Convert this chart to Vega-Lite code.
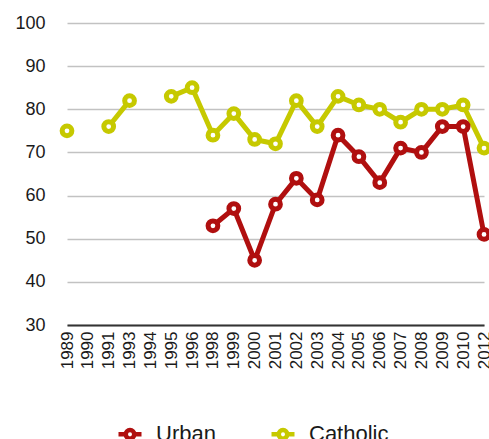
{
  "$schema": "https://vega.github.io/schema/vega-lite/v6.json",
  "width": 417,
  "height": 302,
  "autosize": {"type": "none"},
  "padding": {"left": 67, "top": 23, "right": 5, "bottom": 114},
  "background": "white",
  "config": {
    "font": "Liberation Sans",
    "view": {"stroke": null}
  },
  "data": {
    "values": [
      {"year": "1989", "series": "Catholic", "value": 75},
      {"year": "1990", "series": "Catholic", "value": null},
      {"year": "1991", "series": "Catholic", "value": 76},
      {"year": "1993", "series": "Catholic", "value": 82},
      {"year": "1994", "series": "Catholic", "value": null},
      {"year": "1995", "series": "Catholic", "value": 83},
      {"year": "1996", "series": "Catholic", "value": 85},
      {"year": "1998", "series": "Catholic", "value": 74},
      {"year": "1999", "series": "Catholic", "value": 79},
      {"year": "2000", "series": "Catholic", "value": 73},
      {"year": "2001", "series": "Catholic", "value": 72},
      {"year": "2002", "series": "Catholic", "value": 82},
      {"year": "2003", "series": "Catholic", "value": 76},
      {"year": "2004", "series": "Catholic", "value": 83},
      {"year": "2005", "series": "Catholic", "value": 81},
      {"year": "2006", "series": "Catholic", "value": 80},
      {"year": "2007", "series": "Catholic", "value": 77},
      {"year": "2008", "series": "Catholic", "value": 80},
      {"year": "2009", "series": "Catholic", "value": 80},
      {"year": "2010", "series": "Catholic", "value": 81},
      {"year": "2012", "series": "Catholic", "value": 71},
      {"year": "1998", "series": "Urban", "value": 53},
      {"year": "1999", "series": "Urban", "value": 57},
      {"year": "2000", "series": "Urban", "value": 45},
      {"year": "2001", "series": "Urban", "value": 58},
      {"year": "2002", "series": "Urban", "value": 64},
      {"year": "2003", "series": "Urban", "value": 59},
      {"year": "2004", "series": "Urban", "value": 74},
      {"year": "2005", "series": "Urban", "value": 69},
      {"year": "2006", "series": "Urban", "value": 63},
      {"year": "2007", "series": "Urban", "value": 71},
      {"year": "2008", "series": "Urban", "value": 70},
      {"year": "2009", "series": "Urban", "value": 76},
      {"year": "2010", "series": "Urban", "value": 76},
      {"year": "2012", "series": "Urban", "value": 51}
    ]
  },
  "encoding": {
    "x": {
      "field": "year",
      "type": "ordinal",
      "scale": {
        "type": "point",
        "padding": 0,
        "domain": ["1989", "1990", "1991", "1993", "1994", "1995", "1996", "1998", "1999", "2000", "2001", "2002", "2003", "2004", "2005", "2006", "2007", "2008", "2009", "2010", "2012"]
      },
      "axis": {
        "title": null,
        "labelAngle": -90,
        "labelFontSize": 17,
        "labelColor": "#1a1a1a",
        "labelPadding": 6,
        "ticks": false,
        "grid": false,
        "domainColor": "#333333",
        "domainWidth": 2
      }
    },
    "y": {
      "field": "value",
      "type": "quantitative",
      "scale": {"domain": [30, 100], "nice": false, "zero": false},
      "axis": {
        "title": null,
        "values": [30, 40, 50, 60, 70, 80, 90, 100],
        "labelFontSize": 18,
        "labelColor": "#1a1a1a",
        "labelPadding": 22,
        "domain": false,
        "ticks": false,
        "gridColor": "#c2c2c2",
        "gridWidth": 1.5
      }
    },
    "color": {
      "field": "series",
      "type": "nominal",
      "scale": {"domain": ["Urban", "Catholic"], "range": ["#b00f0f", "#c6c900"]},
      "legend": {
        "title": null,
        "orient": "none",
        "direction": "horizontal",
        "legendX": 49,
        "legendY": 397,
        "labelFontSize": 22,
        "labelColor": "#1a1a1a",
        "labelOffset": 12,
        "columnPadding": 46,
        "symbolType": "M-1,0H-0.37M0.37,0H1M0.37,0A0.37,0.37,0,1,1,-0.37,0A0.37,0.37,0,1,1,0.37,0Z",
        "symbolSize": 529,
        "symbolStrokeWidth": 4.5,
        "symbolFillColor": "white"
      }
    }
  },
  "layer": [
    {
      "mark": {"type": "line", "strokeWidth": 5, "strokeJoin": "miter"}
    },
    {
      "mark": {"type": "point", "shape": "circle", "filled": false, "fill": "white", "fillOpacity": 1, "size": 95, "strokeWidth": 5, "opacity": 1}
    }
  ]
}
